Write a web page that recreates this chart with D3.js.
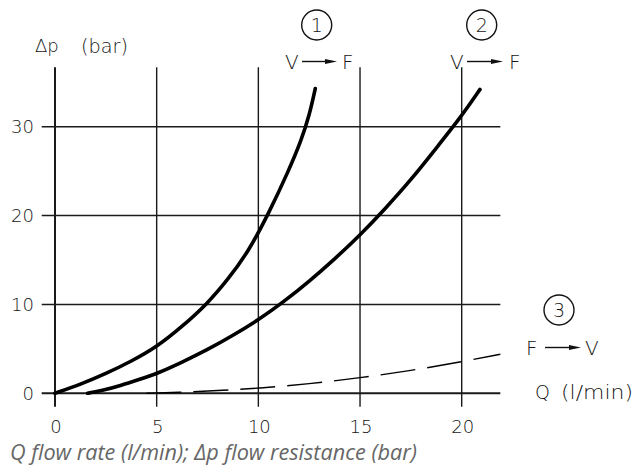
<!DOCTYPE html>
<html><head><meta charset="utf-8">
<script src="https://cdn.jsdelivr.net/npm/d3@7"></script>
<style>
body{margin:0;background:#fff;}
svg{display:block;}
.lbl{font-family:"DejaVu Sans",sans-serif;font-weight:200;fill:#151515;}
.cap{font-family:"Open Sans",sans-serif;font-style:italic;fill:#666;}
</style></head>
<body>
<script>
// ---- data ----
const xTicks = [0, 5, 10, 15, 20];
const yTicks = [0, 10, 20, 30];
const curve1Q = [0, 1.25, 2.5, 3.75, 5, 6.25, 7.5, 8.5, 9.5, 10.5, 11.5, 12.1, 12.5, 12.8];
const curve1P = [0, 1.0, 2.2, 3.6, 5.2, 7.5, 10.1, 12.8, 15.9, 20.2, 25.1, 28.4, 31.2, 34.3];
const curve2Q = [1.6, 2.3, 3.2, 4.2, 5, 6.25, 7.5, 8.75, 10, 11.25, 12.5, 13.75, 15, 16.25, 17.5, 18.75, 20, 20.9];
const curve2P = [0, 0.3, 0.85, 1.6, 2.2, 3.5, 4.9, 6.5, 8.25, 10.3, 12.6, 15.1, 17.8, 20.8, 24.0, 27.6, 31.2, 34.2];
const curve3Q = [4.5, 6, 8, 10, 12.5, 15, 17.5, 20, 21.9];
const curve3P = [0, 0.1, 0.3, 0.56, 1.05, 1.75, 2.55, 3.55, 4.4];
const curveLabels = ["1", "2", "3"];
const directions = [["V", "F"], ["V", "F"], ["F", "V"]];
const yTitleSym = "\u0394p", yTitleUnit = "(bar)";
const xTitleSym = "Q", xTitleUnit = "(l/min)";
const caption = "Q flow rate (l/min); \u0394p flow resistance (bar)";

const W = 638, H = 473;
const svg = d3.select("body").append("svg").attr("width", W).attr("height", H);

const x = d3.scaleLinear().domain([0, 20]).range([55, 461.7]);
const y = d3.scaleLinear().domain([0, 30]).range([393.3, 126.7]);
const xMax = 21.9, yMax = 36.7;

// grid
const g = svg.append("g");
g.selectAll("line.v").data(xTicks).join("line")
  .attr("x1", d => x(d)).attr("x2", d => x(d))
  .attr("y1", y(yMax)).attr("y2", y(0) + 13.4)
  .attr("stroke", "#1a1a1a").attr("stroke-width", d => d === 0 ? 2 : 1.4);
g.selectAll("line.h").data(yTicks).join("line")
  .attr("x1", x(0) - 13.3).attr("x2", x(xMax))
  .attr("y1", d => y(d)).attr("y2", d => y(d))
  .attr("stroke", "#1a1a1a").attr("stroke-width", d => d === 0 ? 2 : 1.4);

// tick labels
svg.selectAll("text.yt").data(yTicks).join("text").attr("class", "lbl")
  .attr("x", 34).attr("y", d => y(d)).attr("dy", "0.36em")
  .attr("text-anchor", "end").attr("font-size", 18).text(d => d);
svg.selectAll("text.xt").data(xTicks).join("text").attr("class", "lbl")
  .attr("x", d => x(d) + 1).attr("y", 427).attr("dy", "0.36em")
  .attr("text-anchor", "middle").attr("font-size", 18).text(d => d);

// curves
const line = d3.line().x(d => x(d[0])).y(d => y(d[1])).curve(d3.curveBasis);
const c1 = curve1Q.map((q, i) => [q, curve1P[i]]);
const c2 = curve2Q.map((q, i) => [q, curve2P[i]]);
const c3 = curve3Q.map((q, i) => [q, curve3P[i]]);
svg.append("path").attr("d", line(c1)).attr("fill", "none").attr("stroke", "#000").attr("stroke-width", 3.6).attr("stroke-linecap", "round");
svg.append("path").attr("d", line(c2)).attr("fill", "none").attr("stroke", "#000").attr("stroke-width", 3.6).attr("stroke-linecap", "round");
svg.append("path").attr("d", line(c3)).attr("fill", "none").attr("stroke", "#000").attr("stroke-width", 1.4).attr("stroke-dasharray", "35,12");

// annotations
const ann = [
  {cx: 316.7, cy: 25, ty: 61.5, vx: 285, ax1: 302, ax2: 337, fx: 342},
  {cx: 481.7, cy: 25, ty: 61.5, vx: 450, ax1: 467, ax2: 503, fx: 509},
  {cx: 559, cy: 310, ty: 347.5, vx: 526, ax1: 545, ax2: 581, fx: 585}
];
ann.forEach((a, i) => {
  svg.append("circle").attr("cx", a.cx).attr("cy", a.cy).attr("r", 15)
    .attr("fill", "none").attr("stroke", "#111").attr("stroke-width", 1.4);
  svg.append("text").attr("class", "lbl").attr("x", a.cx).attr("y", a.cy).attr("dy", "0.36em")
    .attr("text-anchor", "middle").attr("font-size", 19).text(curveLabels[i]);
  svg.append("text").attr("class", "lbl").attr("x", a.vx).attr("y", a.ty).attr("dy", "0.36em")
    .attr("font-size", 20).text(directions[i][0]);
  svg.append("line").attr("x1", a.ax1).attr("x2", a.ax2 - 10).attr("y1", a.ty).attr("y2", a.ty)
    .attr("stroke", "#111").attr("stroke-width", 1.4);
  svg.append("path").attr("d", `M${a.ax2 - 12},${a.ty - 2.6}L${a.ax2},${a.ty}L${a.ax2 - 12},${a.ty + 2.6}Z`).attr("fill", "#111");
  svg.append("text").attr("class", "lbl").attr("x", a.fx).attr("y", a.ty).attr("dy", "0.36em")
    .attr("font-size", 20).text(directions[i][1]);
});

// axis titles
svg.append("text").attr("class", "lbl").attr("x", 35).attr("y", 46).attr("dy", "0.36em")
  .attr("font-size", 18).text(yTitleSym);
svg.append("text").attr("class", "lbl").attr("x", 81).attr("y", 46).attr("dy", "0.36em")
  .attr("font-size", 19).attr("textLength", 47).attr("lengthAdjust", "spacingAndGlyphs").text(yTitleUnit);
svg.append("text").attr("class", "lbl").attr("x", 535).attr("y", 392).attr("dy", "0.36em")
  .attr("font-size", 19).text(xTitleSym);
svg.append("text").attr("class", "lbl").attr("x", 561).attr("y", 392).attr("dy", "0.36em")
  .attr("font-size", 19).attr("textLength", 72).attr("lengthAdjust", "spacingAndGlyphs").text(xTitleUnit);
svg.append("text").attr("class", "cap").attr("x", 10).attr("y", 460)
  .attr("font-size", 21).attr("textLength", 407).attr("lengthAdjust", "spacingAndGlyphs").text(caption);
</script>
</body></html>
